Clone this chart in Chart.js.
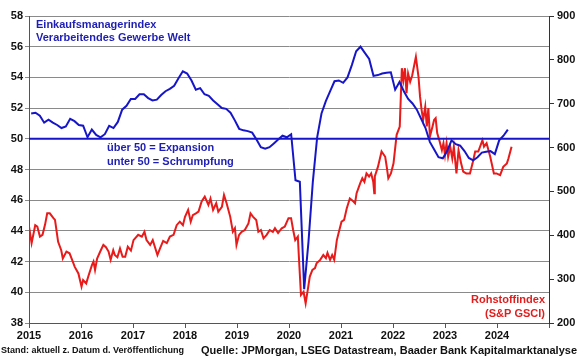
<!DOCTYPE html>
<html>
<head>
<meta charset="utf-8">
<script src="https://cdn.jsdelivr.net/npm/chart.js@4.4.1/dist/chart.umd.min.js"></script>
<style>
  html, body { margin: 0; padding: 0; background: #fff; }
  canvas { display: block; }
</style>
</head>
<body>
<canvas id="chart" width="580" height="358"></canvas>
<script>
// PMI (monthly, starting Jan 2015)
const pmiStartYear = 2015;
const pmiValues = [
  51.65, 51.7, 51.5, 51.05, 51.25, 51.05, 50.9, 50.7, 50.8, 51.3, 51.15, 50.9,
  50.85, 50.1, 50.6, 50.25, 50.1, 50.3, 50.85, 50.7, 51.1, 51.9, 52.15, 52.6,
  52.6, 52.9, 52.9, 52.65, 52.5, 52.55, 52.85, 53.1, 53.25, 53.45, 53.95, 54.4,
  54.25, 53.8, 53.2, 53.3, 52.9, 52.8, 52.5, 52.25, 52.0, 51.95, 51.7, 51.2,
  50.65, 50.55, 50.5, 50.4, 49.95, 49.45, 49.35, 49.45, 49.7, 49.95, 50.2, 50.1,
  50.3, 47.3, 47.2, 40.2, 43.3, 47.2, 50.1, 51.65, 52.45, 53.1, 53.75, 53.8,
  53.65, 54.0, 54.8, 55.7, 56.0, 55.6, 55.2, 54.1, 54.15, 54.25, 54.3, 54.33,
  53.2, 53.7, 53.1, 52.6, 52.3, 51.9, 51.3, 50.7, 49.8, 49.3, 48.8, 48.73,
  49.2, 49.9, 49.65, 49.55, 49.2, 48.75, 48.6, 48.8, 49.1, 49.15, 49.2, 49.0,
  49.9, 50.2, 50.6
];

// S&P GSCI (date as decimal year)
const gsciYears = [
  2015.00, 2015.05, 2015.12, 2015.16, 2015.21, 2015.26, 2015.31, 2015.35, 2015.40, 2015.47,
  2015.50, 2015.56, 2015.62, 2015.65, 2015.72, 2015.78, 2015.82, 2015.88, 2015.95, 2016.01,
  2016.04, 2016.10, 2016.14, 2016.21, 2016.24, 2016.27, 2016.31, 2016.37, 2016.43, 2016.48,
  2016.53, 2016.57, 2016.62, 2016.65, 2016.70, 2016.75, 2016.80, 2016.85, 2016.90, 2016.96,
  2017.01, 2017.10, 2017.17, 2017.22, 2017.26, 2017.33, 2017.38, 2017.42, 2017.47, 2017.52,
  2017.58, 2017.65, 2017.71, 2017.78, 2017.84, 2017.90, 2017.96, 2018.00, 2018.06, 2018.11,
  2018.15, 2018.21, 2018.26, 2018.32, 2018.38, 2018.45, 2018.49, 2018.54, 2018.60, 2018.64,
  2018.71, 2018.75, 2018.80, 2018.87, 2018.92, 2018.96, 2018.99, 2019.04, 2019.09, 2019.15,
  2019.22, 2019.26, 2019.31, 2019.37, 2019.41, 2019.46, 2019.51, 2019.57, 2019.63, 2019.69,
  2019.73, 2019.79, 2019.86, 2019.92, 2019.99, 2020.04, 2020.08, 2020.12, 2020.17, 2020.19,
  2020.23, 2020.28, 2020.32, 2020.36, 2020.40, 2020.45, 2020.50, 2020.53, 2020.60, 2020.66,
  2020.71, 2020.74, 2020.79, 2020.83, 2020.87, 2020.92, 2020.96, 2021.01, 2021.06, 2021.11,
  2021.17, 2021.24, 2021.27, 2021.30, 2021.37, 2021.41, 2021.45, 2021.49, 2021.54, 2021.58,
  2021.62, 2021.64, 2021.65, 2021.71, 2021.78, 2021.85, 2021.88, 2021.91, 2021.96, 2022.01,
  2022.07, 2022.13, 2022.17, 2022.20, 2022.23, 2022.26, 2022.29, 2022.33, 2022.37, 2022.44,
  2022.49, 2022.52, 2022.55, 2022.58, 2022.62, 2022.65, 2022.68, 2022.71, 2022.76, 2022.79,
  2022.82, 2022.85, 2022.89, 2022.94, 2022.97, 2023.00, 2023.03, 2023.06, 2023.10, 2023.14,
  2023.17, 2023.22, 2023.26, 2023.31, 2023.35, 2023.41, 2023.48, 2023.53, 2023.58, 2023.64,
  2023.72, 2023.75, 2023.80, 2023.87, 2023.94, 2023.99, 2024.06, 2024.12, 2024.19, 2024.22,
  2024.28
];
const gsciValues = [
  420, 382, 423, 420, 397, 401, 425, 450, 450, 439,
  435, 385, 366, 347, 363, 359, 347, 328, 313, 283,
  298, 290, 306, 332, 340, 321, 347, 363, 378, 373,
  363, 344, 366, 355, 350, 370, 351, 351, 374, 365,
  389, 401, 397, 408, 389, 378, 389, 374, 355, 370,
  387, 382, 397, 401, 423, 431, 423, 442, 458, 431,
  446, 450, 454, 477, 488, 469, 484, 458, 473, 454,
  465, 492, 473, 442, 408, 416, 378, 401, 408, 412,
  427, 450, 442, 435, 408, 412, 393, 401, 412, 408,
  416, 405, 416, 420, 439, 439, 412, 389, 397, 351,
  264, 271, 245, 275, 306, 321, 325, 336, 344, 355,
  348, 360, 344, 355, 344, 389, 408, 431, 435, 461,
  484, 477, 473, 496, 519, 530, 522, 541, 534, 541,
  522, 496, 534, 556, 591, 579, 556, 530, 541, 564,
  629, 648, 781, 754, 781, 724, 769, 750, 765, 807,
  762, 716, 686, 663, 693, 648, 690, 625, 648, 663,
  667, 633, 617, 594, 610, 583, 610, 579, 602, 575,
  602, 541, 594, 564, 545, 541, 541, 564, 591, 591,
  617, 602, 610, 579, 541, 541, 537, 556, 564, 575,
  602
];

const xMin = 2015, xMax = 2025;
const expansionLevel = 50;

const pmiColor = "#1616c8";
const gsciColor = "#e81a1a";

const pmiData = pmiValues.map((v, i) => ({ x: pmiStartYear + (i + 0.5) / 12, y: v }));
const gsciData = gsciYears.map((t, i) => ({ x: t, y: gsciValues[i] }));

// texts drawn on top of the chart
const textPlugin = {
  id: "texts",
  afterDraw(chart) {
    const c = chart.ctx;
    c.save();
    c.textBaseline = "middle";
    c.font = "bold 11px 'Liberation Sans', Arial, sans-serif";
    c.fillStyle = "#1e1eb4";
    c.textAlign = "left";
    c.fillText("Einkaufsmanagerindex", 36, 25);
    c.fillText("Verarbeitendes Gewerbe Welt", 36, 38);
    c.fillText("über 50 = Expansion", 107, 148);
    c.fillText("unter 50 = Schrumpfung", 107, 162);
    c.fillStyle = "#e01e1e";
    c.textAlign = "right";
    c.fillText("Rohstoffindex", 545, 300);
    c.fillText("(S&P GSCI)", 545, 314);
    c.fillStyle = "#111";
    c.textAlign = "left";
    c.font = "bold 9px 'Liberation Sans', Arial, sans-serif";
    c.fillText("Stand: aktuell z. Datum d. Veröffentlichung", 1, 351);
    c.textAlign = "right";
    c.font = "bold 11px 'Liberation Sans', Arial, sans-serif";
    c.fillText("Quelle: JPMorgan, LSEG Datastream, Baader Bank Kapitalmarktanalyse", 577, 351);
    c.restore();
  }
};

const ctx = document.getElementById("chart");
const tickFont = { family: "'Liberation Sans', Arial, sans-serif", size: 11, weight: "bold" };

new Chart(ctx, {
  type: "line",
  data: {
    datasets: [
      {
        label: "50",
        data: [{ x: xMin, y: expansionLevel }, { x: xMax, y: expansionLevel }],
        borderColor: pmiColor,
        borderWidth: 2,
        pointRadius: 0,
        yAxisID: "yL",
      },
      {
        label: "PMI",
        data: pmiData,
        borderColor: pmiColor,
        borderWidth: 2,
        pointRadius: 0,
        tension: 0,
        yAxisID: "yL",
      },
      {
        label: "GSCI",
        data: gsciData,
        borderColor: gsciColor,
        borderWidth: 2,
        pointRadius: 0,
        tension: 0,
        yAxisID: "yR",
      },
    ]
  },
  options: {
    responsive: false,
    animation: false,
    devicePixelRatio: 1,
    layout: { padding: { top: 16, left: 0, right: 0, bottom: 0 } },
    plugins: { legend: { display: false }, tooltip: { enabled: false } },
    scales: {
      x: {
        type: "linear",
        min: xMin,
        max: xMax,
        ticks: {
          stepSize: 1,
          autoSkip: false,
          maxRotation: 0,
          padding: 1,
          color: "#111",
          font: tickFont,
          callback: v => (v < xMax ? String(v) : ""),
        },
        grid: { drawOnChartArea: false, tickLength: 5, color: "#555" },
        border: { color: "#555", width: 1 },
        afterFit: s => { s.height = 35; },
      },
      yL: {
        position: "left",
        min: 38,
        max: 58,
        ticks: { stepSize: 2, padding: 2, color: "#111", font: tickFont },
        grid: { color: "#8a8a8a", tickLength: 4 },
        border: { color: "#555", width: 1 },
        afterFit: s => { s.width = 29; },
      },
      yR: {
        position: "right",
        min: 200,
        max: 900,
        ticks: { stepSize: 100, padding: 3, color: "#111", font: tickFont },
        grid: { drawOnChartArea: false, tickLength: 5, color: "#333" },
        border: { color: "#333", width: 1 },
        afterFit: s => { s.width = 31; },
      },
    },
  },
  plugins: [textPlugin],
});
</script>
</body>
</html>
